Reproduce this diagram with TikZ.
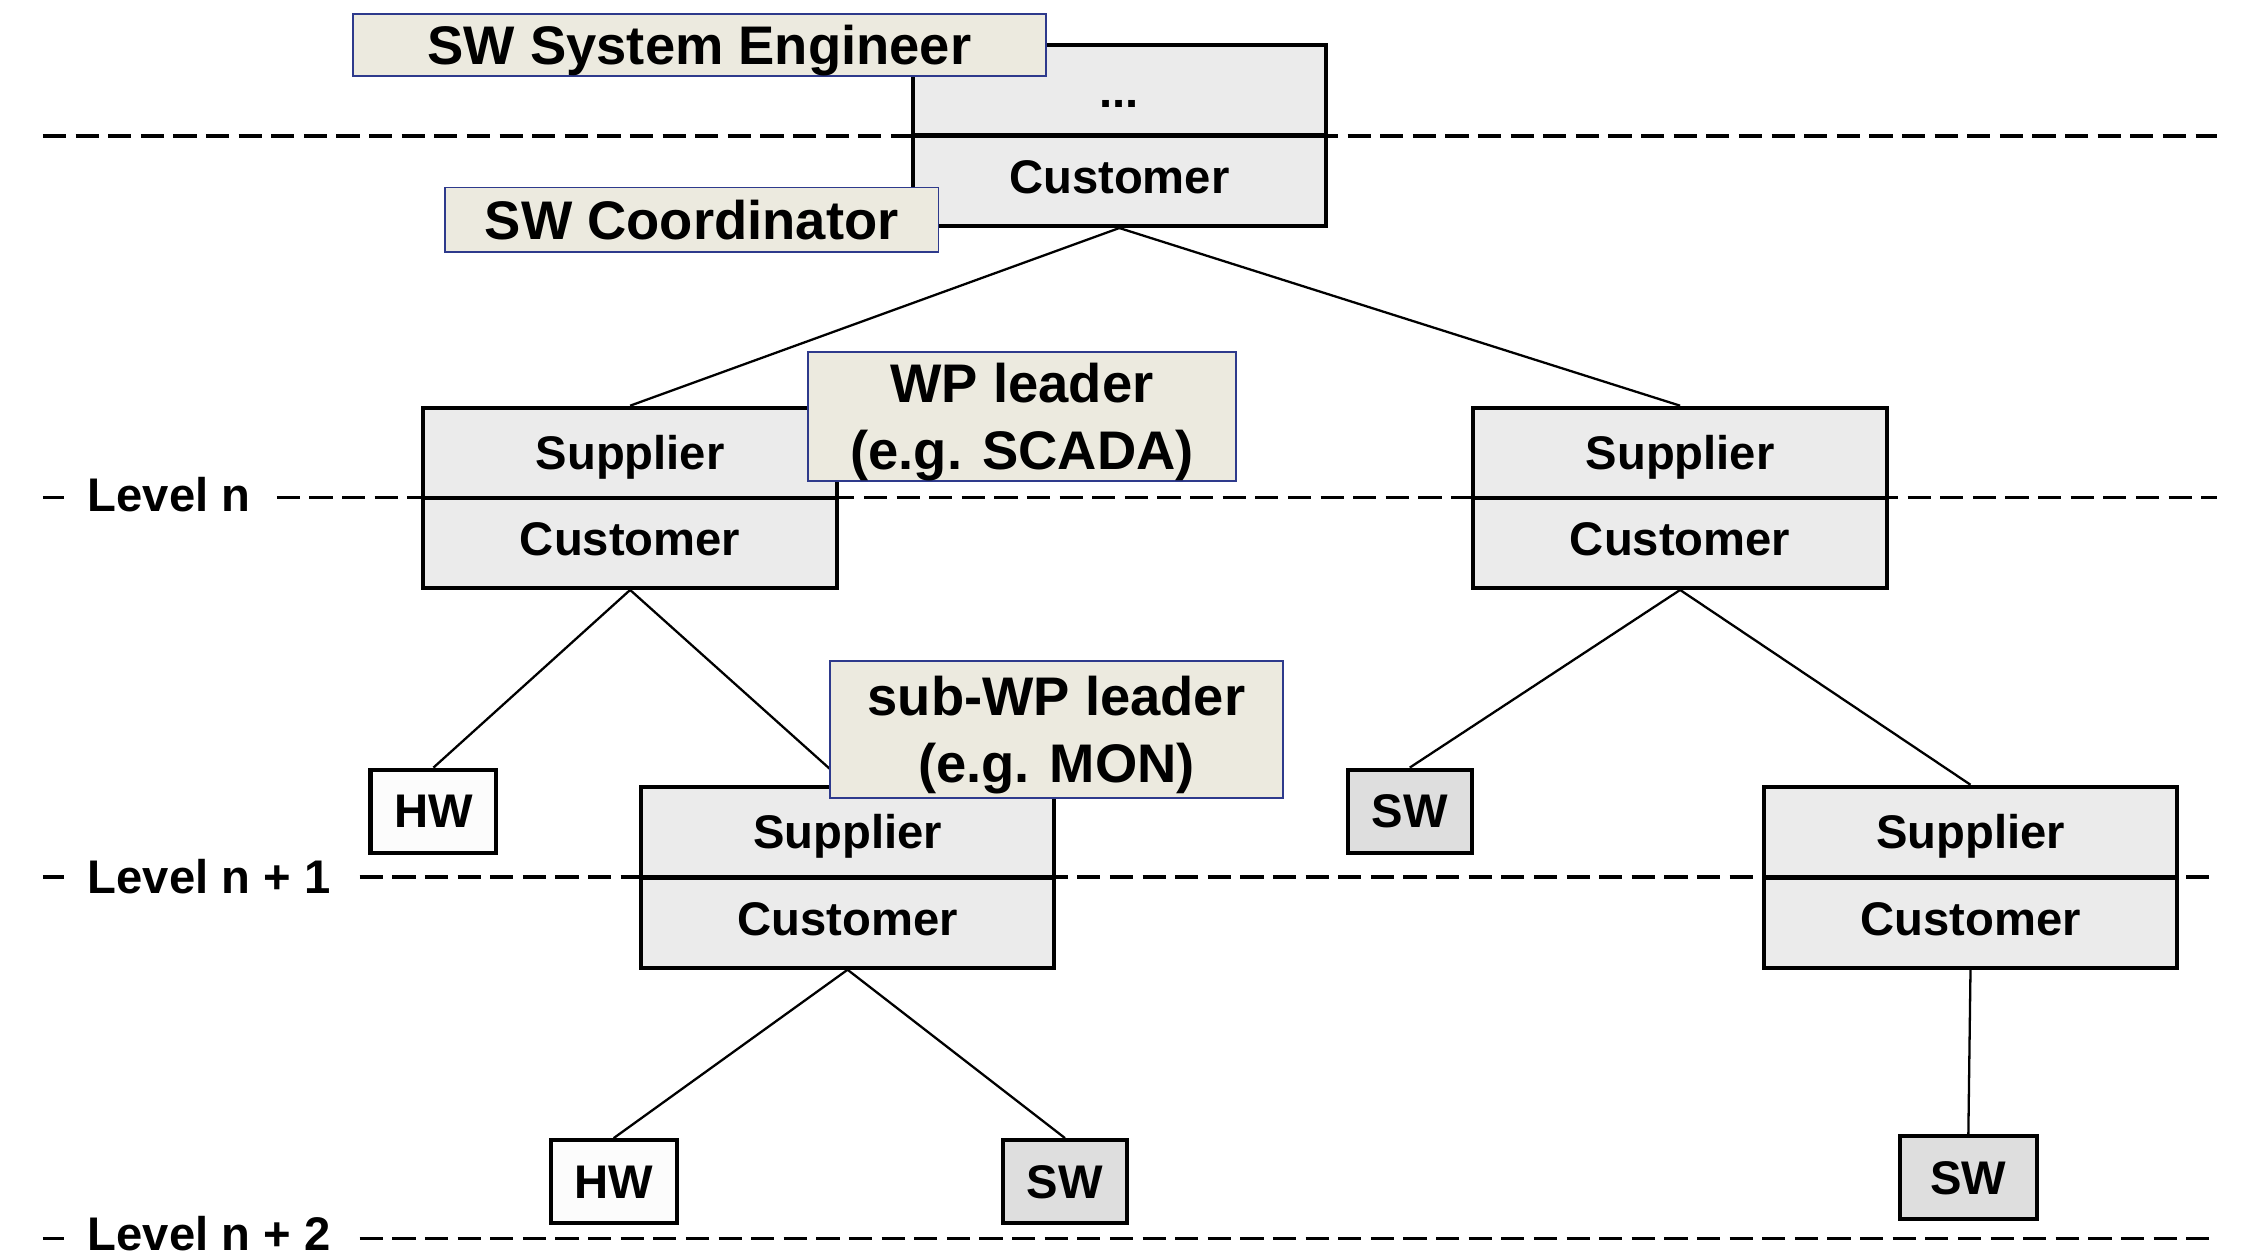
\documentclass[tikz,border=0pt]{standalone}
\usepackage{fontspec}
\setmainfont{Liberation Sans}
\definecolor{boxfill}{HTML}{EBEBEB}
\definecolor{swfill}{HTML}{DEDEDE}
\definecolor{hwfill}{HTML}{FCFCFC}
\definecolor{rolefill}{HTML}{ECEADF}
\definecolor{roleedge}{HTML}{2E3A8C}
% one line of a role tag: cap height, no depth, so the caps sit centred
\newcommand\capline[1]{\rule{0pt}{13.6pt}\smash{#1}}
\tikzset{
  boxfont/.style={font=\fontsize{16.5}{20}\selectfont\bfseries, text height=11.8pt, text depth=0pt},
  half/.style={draw, line width=1.4pt, fill=boxfill, minimum width=144.5pt,
               minimum height=31.5pt, inner sep=0pt, boxfont},
  lowhalf/.style={half, text depth=3pt},
  leaf/.style={draw, line width=1.4pt, minimum height=29pt, inner sep=0pt, boxfont},
  hwleaf/.style={leaf, fill=hwfill, minimum width=44pt},
  swleaf/.style={leaf, fill=swfill, minimum width=43.5pt},
  role/.style={draw=roleedge, line width=0.6pt, fill=rolefill, inner sep=0pt,
               font=\fontsize{19}{23.5}\selectfont\bfseries, align=center},
  link/.style={line width=0.8pt},
  levelline/.style={line width=1.15pt, dash pattern=on 8.1pt off 3.3pt},
  leveltext/.style={inner sep=0pt, anchor=west, boxfont},
}
\begin{document}
\begin{tikzpicture}[x=0.5pt, y=-0.5pt]
\useasboundingbox (0,0) rectangle (1568,879);

% level separators
\draw[levelline] (30,95) -- (1550,95);

\node[leveltext] (lvn) at (61,346) {Level n};
\draw[line width=1.15pt] (30,348) -- (45,348);
\draw[levelline] ([xshift=9pt]lvn.east |- 0,348) -- (1550,348);

\node[leveltext] (lvn1) at (61,612.5) {Level n + 1};
\draw[line width=1.15pt] (30,613) -- (45,613);
\draw[levelline] ([xshift=10pt]lvn1.east |- 0,613) -- (1550,613);

\node[leveltext] (lvn2) at (61,862.5) {Level n + 2};
\draw[line width=1.15pt] (30,866) -- (45,866);
\draw[levelline] ([xshift=10pt]lvn2.east |- 0,866) -- (1550,866);

% supplier / customer boxes
\node[half]    (topA) at (782.5,63)    {...};
\node[lowhalf] (topB) at (782.5,126.5) {Customer};

\node[half]    (lnA) at (440.5,316.5) {Supplier};
\node[lowhalf] (lnB) at (440.5,379.5) {Customer};

\node[half]    (rnA) at (1174.5,316.5) {Supplier};
\node[lowhalf] (rnB) at (1174.5,379.5) {Customer};

\node[half]    (mA) at (592.5,581.5) {Supplier};
\node[lowhalf] (mB) at (592.5,645)   {Customer};

\node[half]    (rmA) at (1377.5,581.5) {Supplier};
\node[lowhalf] (rmB) at (1377.5,645)   {Customer};

% leaves
\node[hwleaf] (hw1) at (303,567)   {HW};
\node[swleaf] (sw1) at (985.5,567) {SW};
\node[hwleaf] (hw2) at (429,826)   {HW};
\node[swleaf] (sw2) at (744.5,826) {SW};
\node[swleaf, minimum width=48pt] (sw3) at (1376,823) {SW};

% tree connectors
\draw[link] (topB.south) -- (lnA.north);
\draw[link] (topB.south) -- (rnA.north);
\draw[link] (lnB.south) -- (hw1.north);
\draw[link] (lnB.south) -- (mA.north);
\draw[link] (rnB.south) -- (sw1.north);
\draw[link] (rnB.south) -- (rmA.north);
\draw[link] (mB.south) -- (hw2.north);
\draw[link] (mB.south) -- (sw2.north);
\draw[link] (rmB.south) -- (sw3.north);

% role tags
\node[role, minimum width=242pt, minimum height=21.5pt] (swse) at (489,31.5)
  {\capline{SW System Engineer}};
\node[role, minimum width=172.5pt, minimum height=22.5pt] (swc) at (483.5,153.5)
  {\capline{SW Coordinator}};
\node[role, minimum width=149.5pt, minimum height=45pt] (wpl) at (714.5,291)
  {\capline{WP leader}\\\capline{(e.g. SCADA)}};
\node[role, minimum width=158.5pt, minimum height=48pt] (swpl) at (738.5,510)
  {\capline{sub-WP leader}\\\capline{(e.g. MON)}};
\end{tikzpicture}
\end{document}
